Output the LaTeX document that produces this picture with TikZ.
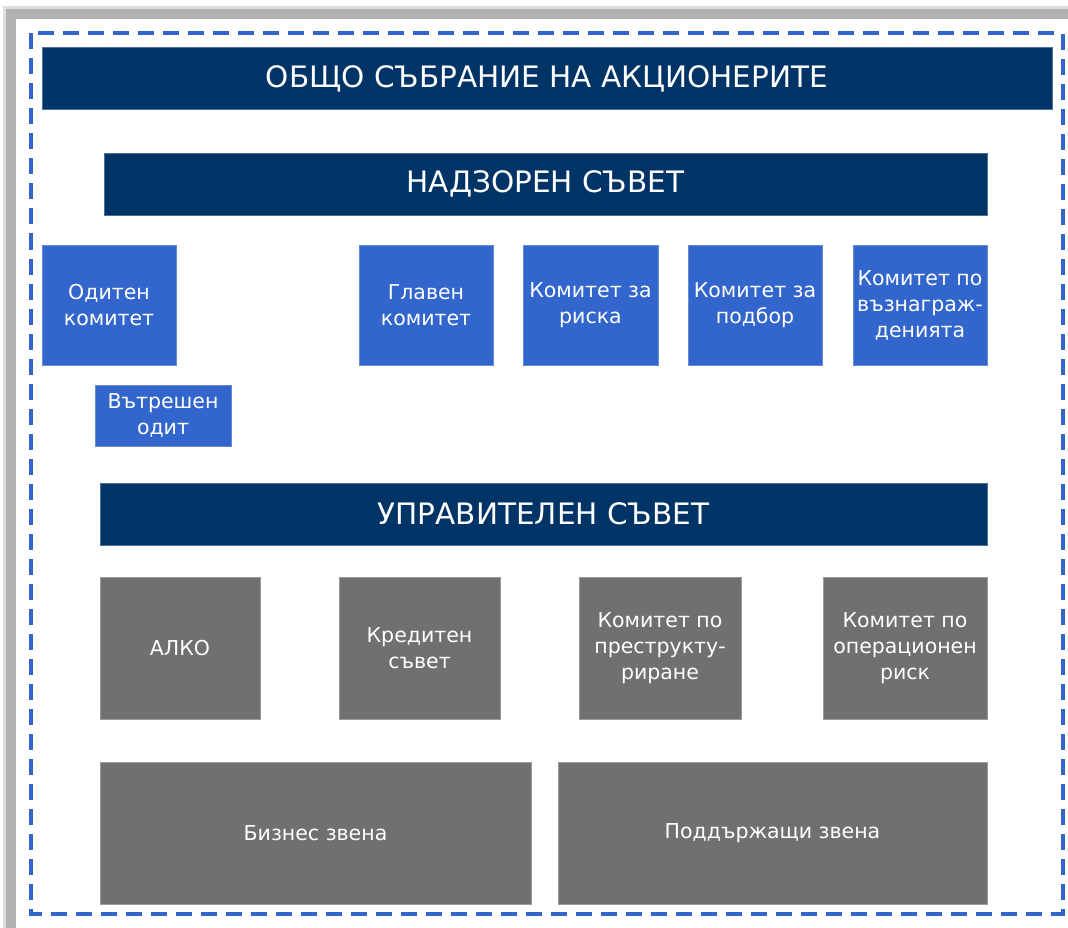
\documentclass[tikz,border=0pt]{standalone}
\usepackage{fontspec}
\setmainfont{DejaVu Sans}
\usepackage{tikz}

\definecolor{azulosc}{HTML}{003366}
\definecolor{azul}{HTML}{3366CC}
\definecolor{gris}{HTML}{707070}

\tikzset{
  banda/.style={rectangle,fill=azulosc,draw=azulosc!70!white,line width=0.6pt,text=white,
    inner sep=0pt,minimum height=62pt,font=\fontsize{29.5}{34}\selectfont},
  comite/.style={rectangle,fill=azul,draw=azul!75!white,line width=0.6pt,text=white,align=center,
    inner sep=0pt,minimum width=134pt,minimum height=120pt,font=\fontsize{20.5}{26}\selectfont},
  unidad/.style={rectangle,fill=gris,draw=gris!70!white,line width=0.6pt,text=white,align=center,
    inner sep=0pt,minimum height=142pt,font=\fontsize{20.5}{26}\selectfont}
}

\begin{document}
\begin{tikzpicture}[x=1pt,y=-1pt]
        \useasboundingbox (0,0) rectangle (1068,928);
        % Marco con sombra
            \fill[gray!25] (3,6) rectangle (1068,928);
            \fill[gray!60] (6,9) rectangle (1068,928);
            \fill[white] (16,19) rectangle (1068,928);
            \draw[azul,line width=4pt,dash pattern=on 16pt off 9pt] (31,33.5) rectangle (1062.5,913.5);

        % Bandas principales
            \node[banda,minimum width=1010pt] (gsa) at (547,78.5) {ОБЩО СЪБРАНИЕ НА АКЦИОНЕРИТЕ};
            \node[banda,minimum width=883pt] (ns) at (545.5,184) {НАДЗОРЕН СЪВЕТ};
            \node[banda,minimum width=887pt] (us) at (543.5,514) {УПРАВИТЕЛЕН СЪВЕТ};

        % Комитети на надзорния съвет
            \node[comite] (audit) at (109,305) {Одитен\\комитет};
            \node[comite,minimum width=136pt,minimum height=61pt] (intaudit) at (163,415.5) {Вътрешен\\одит};
            \node[comite] (main) at (426,305) {Главен\\комитет};
            \node[comite,minimum width=135pt] (risk) at (590.5,305) {Комитет за\\риска};
            \node[comite] (select) at (755,305) {Комитет за\\подбор};
            \node[comite] (pay) at (920,305) {Комитет по\\възнаграж-\\денията};

        % Комитети на управителния съвет
            \node[unidad,minimum width=160pt] (alco) at (180,648) {АЛКО};
            \node[unidad,minimum width=161pt] (credit) at (419.5,648) {Кредитен\\съвет};
            \node[unidad,minimum width=162pt] (restr) at (660,648) {Комитет по\\преструкту-\\риране};
            \node[unidad,minimum width=164pt] (oprisk) at (905,648) {Комитет по\\операционен\\риск};

        % Звена
            \node[unidad,minimum width=431pt] (business) at (315.5,833) {Бизнес звена};
            \node[unidad,minimum width=429pt] (support) at (772.5,833) {Поддържащи звена};
        \end{tikzpicture}
\end{document}
